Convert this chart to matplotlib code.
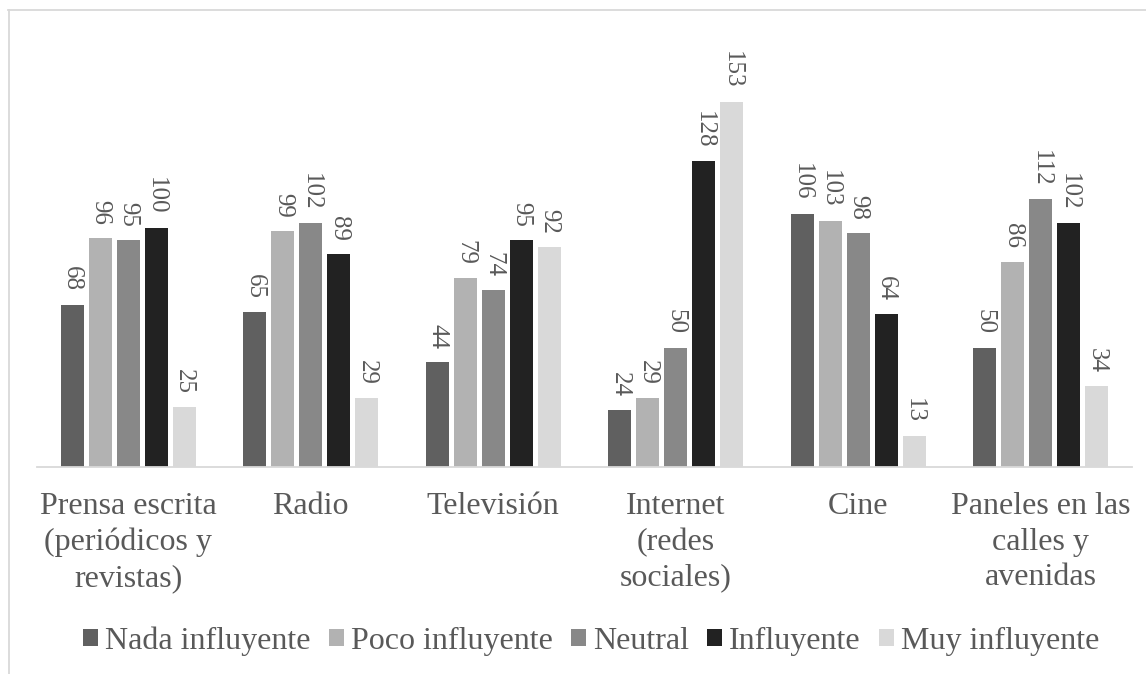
import numpy as np
import matplotlib
matplotlib.use('Agg')
import matplotlib.pyplot as plt
from matplotlib.lines import Line2D

categories = ['Prensa escrita\n(periódicos y\nrevistas)', 'Radio', 'Televisión',
              'Internet\n(redes\nsociales)', 'Cine', 'Paneles en las\ncalles y\navenidas']
series_names = ['Nada influyente', 'Poco influyente', 'Neutral', 'Influyente', 'Muy influyente']
nada = [68, 65, 44, 24, 106, 50]
poco = [96, 99, 79, 29, 103, 86]
neutral = [95, 102, 74, 50, 98, 112]
influyente = [100, 89, 95, 128, 64, 102]
muy = [25, 29, 92, 153, 13, 34]
colors = ['#606060', '#b2b2b2', '#888888', '#222222', '#d9d9d9']

plt.rcParams['font.family'] = 'serif'
plt.rcParams['font.serif'] = ['Liberation Serif', 'Times New Roman', 'DejaVu Serif']
text_color = '#595959'

W, H = 1146, 674
fig = plt.figure(figsize=(W / 100, H / 100), dpi=100)

# chart frame (top and left visible)
fig.add_artist(Line2D([8 / W, 1.0], [1 - 9.5 / H, 1 - 9.5 / H], color='#d9d9d9', lw=1.3))
fig.add_artist(Line2D([8.5 / W, 8.5 / W], [0, 1 - 9.5 / H], color='#d9d9d9', lw=1.3))

ax = fig.add_axes([37 / W, (H - 467) / H, (1132 - 37) / W, 430 / H])
ax.set_ylim(0, 180)
ax.set_xlim(-0.5, len(categories) - 0.5)

series = [nada, poco, neutral, influyente, muy]
x = np.arange(len(categories))
pitch = 28 / 182.5
width = 23 / 182.5
for i, (vals, c, name) in enumerate(zip(series, colors, series_names)):
    xs = x + (i - 2) * pitch
    ax.bar(xs, vals, width=width, color=c, label=name)
    for xi, v in zip(xs, vals):
        ax.text(xi, v + 5.5, str(v), rotation=270, ha='center', va='bottom',
                fontsize=18, color=text_color)

for s in ['top', 'right', 'left']:
    ax.spines[s].set_visible(False)
ax.spines['bottom'].set_color('#d9d9d9')
ax.spines['bottom'].set_linewidth(1.3)
ax.set_yticks([])
ax.set_xticks(x)
ax.set_xticklabels(categories, fontsize=23, color=text_color, linespacing=1.3)
ax.tick_params(axis='x', length=0, pad=18)

leg = fig.legend(loc='center', bbox_to_anchor=(591 / W, 1 - 641 / H), ncol=5,
                 frameon=False, fontsize=23, handlelength=0.47, handleheight=0.47,
                 handletextpad=0.22, columnspacing=0.57, labelcolor=text_color,
                 borderpad=0, borderaxespad=0)

fig.savefig('out.png', dpi=100)
